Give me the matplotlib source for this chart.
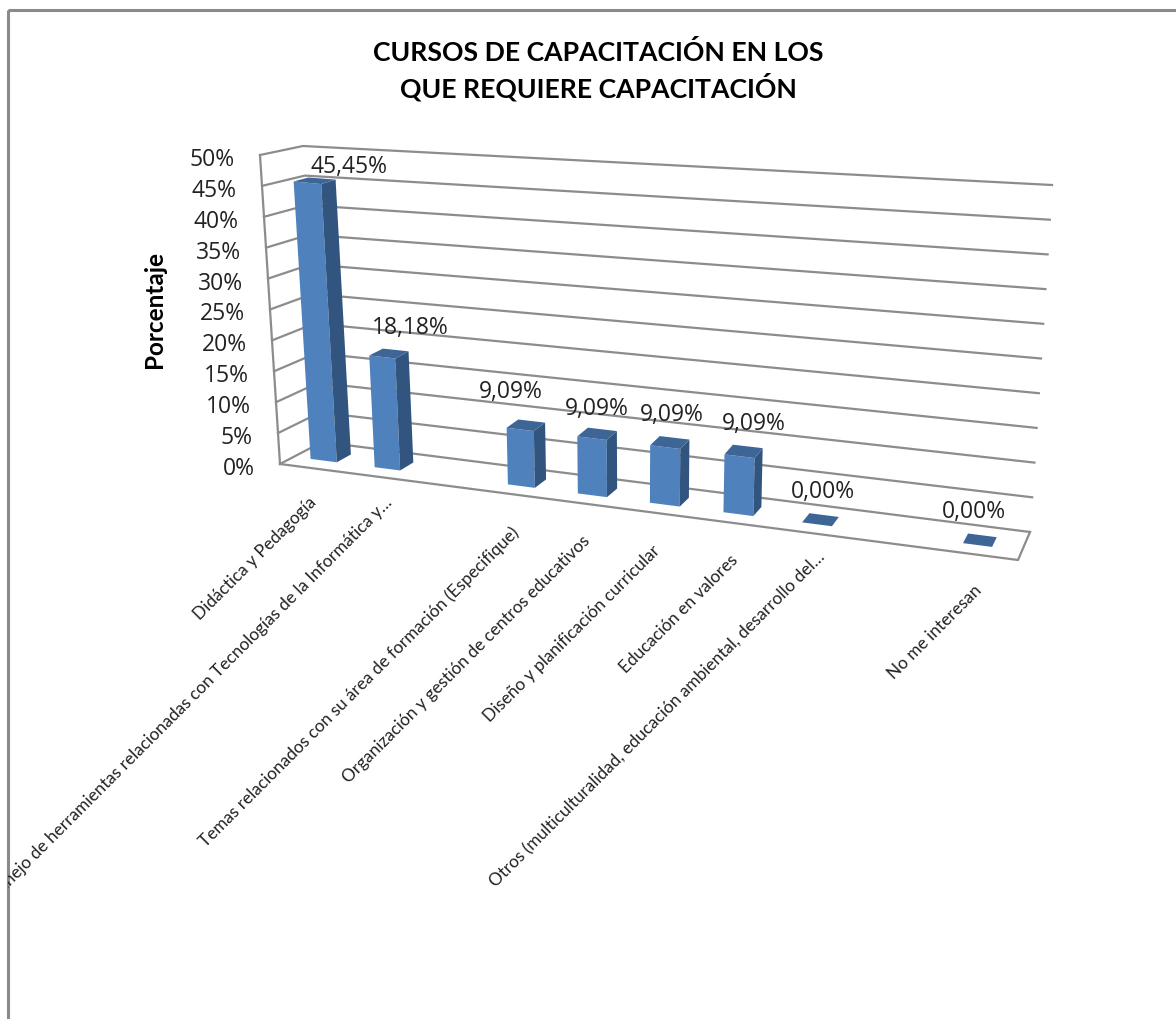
import matplotlib
matplotlib.use('Agg')
import matplotlib.pyplot as plt
from matplotlib.patches import Polygon, Rectangle
import numpy as np

# datos del grafico
categorias = ['Didáctica y Pedagogía',
              'Manejo de herramientas relacionadas con Tecnologías de la Informática y…',
              'Temas relacionados con su área de formación (Especifique)',
              'Organización y gestión de centros educativos',
              'Diseño y planificación curricular',
              'Educación en valores',
              'Otros (multiculturalidad, educación ambiental, desarrollo del…',
              'No me interesan']
porcentajes = [45.45, 18.18, 9.09, 9.09, 9.09, 9.09, 0.0, 0.0]
ticks_y = [0, 5, 10, 15, 20, 25, 30, 35, 40, 45, 50]
titulo = 'CURSOS DE CAPACITACIÓN EN LOS\nQUE REQUIERE CAPACITACIÓN'

# esquinas de la caja 3D en pixeles: (x abajo, y abajo, x arriba, y arriba)
P_FRONT_L = (280, 464, 260, 155)
P_BACK_L = (322, 442, 303, 146)
P_FRONT_R = (1018, 560, 1042, 242)
P_BACK_R = (1030, 532, 1052, 185)

# posicion de cada barra sobre el piso, no es uniforme en el original
bar_u = [0.023, 0.111, 0.294, 0.39, 0.489, 0.59, 0.698, 0.919]
bar_du = [0.036, 0.035, 0.037, 0.04, 0.041, 0.041, 0.041, 0.04]
bar_w0, bar_w1 = 0.33, 0.68
label_dxy = [(42, -16), (28, -29), (-9, -37), (5, -29), (7, -32), (14, -32), (6, -32), (-4, -33)]
label_end = [(314, 500), (390, 500), (516, 530), (587, 538), (657, 548), (735, 558), (823, 555), (979, 588)]

COLOR_FRENTE = '#4f81bd'
COLOR_LADO = '#32557f'
COLOR_TOPE = '#3d6596'
COLOR_GRID = '#8c8c8c'
FUENTE_NUM = 'Open Sans'
FUENTE_TXT = 'Lato'


def project(u, pct, w):
    # interpolacion entre las esquinas de la caja
    t = pct / 50.0
    pts = []
    for c in (P_FRONT_L, P_BACK_L, P_FRONT_R, P_BACK_R):
        pts.append((c[0] + (c[2] - c[0]) * t, c[1] + (c[3] - c[1]) * t))
    pts = np.array(pts)
    left = pts[0] * (1 - w) + pts[1] * w
    right = pts[2] * (1 - w) + pts[3] * w
    return left * (1 - u) + right * u


fig = plt.figure(figsize=(11.76, 10.19), dpi=100)
ax = fig.add_axes([0, 0, 1, 1])
ax.set_xlim(0, 1176)
ax.set_ylim(1019, 0)
ax.axis('off')

# el marco solo se ve arriba y a la izquierda, sigue fuera de la imagen
marco = Rectangle((8, 10), 1300, 1100, fill=False, edgecolor='#8a8a8a', linewidth=2.2, zorder=1)
ax.add_patch(marco)

# paredes y lineas de division
for v in ticks_y:
    a = project(0, v, 0)
    b = project(0, v, 1)
    c = project(1, v, 1)
    ax.plot([a[0], b[0], c[0]], [a[1], b[1], c[1]], color=COLOR_GRID, lw=1.6, zorder=2)
    ax.text(a[0] - 25, a[1] + 5, f'{v}%', ha='right', va='center', fontsize=16.5,
            family=FUENTE_NUM, color='#222222')
a = project(0, 0, 0)
b = project(0, 50, 0)
ax.plot([a[0], b[0]], [a[1], b[1]], color=COLOR_GRID, lw=1.6, zorder=2)
piso = [project(0, 0, 0), project(1, 0, 0), project(1, 0, 1)]
ax.plot([p[0] for p in piso], [p[1] for p in piso], color=COLOR_GRID, lw=1.6, zorder=2)

# barras
for i, v in enumerate(porcentajes):
    u0 = bar_u[i]
    u1 = u0 + bar_du[i]
    frente = [project(u0, 0, bar_w0), project(u1, 0, bar_w0), project(u1, v, bar_w0), project(u0, v, bar_w0)]
    lado = [project(u1, 0, bar_w0), project(u1, 0, bar_w1), project(u1, v, bar_w1), project(u1, v, bar_w0)]
    tope = [project(u0, v, bar_w0), project(u1, v, bar_w0), project(u1, v, bar_w1), project(u0, v, bar_w1)]
    if v > 0:
        ax.add_patch(Polygon(frente, closed=True, facecolor=COLOR_FRENTE, edgecolor='none', zorder=3))
        ax.add_patch(Polygon(lado, closed=True, facecolor=COLOR_LADO, edgecolor='none', zorder=3))
    ax.add_patch(Polygon(tope, closed=True, facecolor=COLOR_TOPE, edgecolor='none', zorder=3))
    centro = project(u0 + bar_du[i] / 2, v, bar_w0)
    dx, dy = label_dxy[i]
    ax.text(centro[0] + dx, centro[1] + dy, f'{v:.2f}%'.replace('.', ','), ha='center', va='center',
            fontsize=16.5, family=FUENTE_NUM, color='#222222', zorder=5)

# etiquetas del eje de categorias, la segunda se corta en el marco
for nombre, (x, y) in zip(categorias, label_end):
    t = ax.text(x, y, nombre, rotation=45, rotation_mode='anchor', ha='right', va='center',
                fontsize=12.4, family=FUENTE_TXT, color='#222222', clip_on=True)
    t.set_clip_path(marco)

ax.text(155, 310, 'Porcentaje', rotation=90, ha='center', va='center', fontsize=17.5,
        fontweight='bold', family=FUENTE_TXT, color='black')
ax.text(598, 71, titulo, ha='center', va='center', fontsize=19.2, fontweight='bold',
        family=FUENTE_TXT, color='black', linespacing=1.32)

fig.savefig('out.png', dpi=100)
